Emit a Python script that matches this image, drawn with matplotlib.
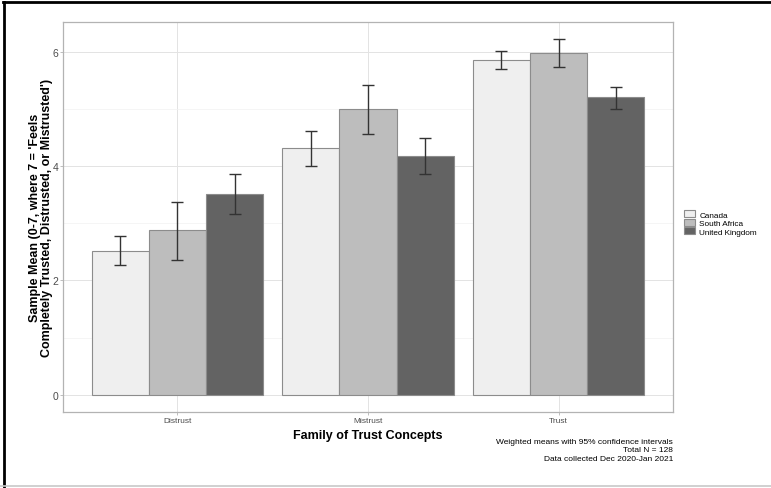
import numpy as np
import matplotlib
matplotlib.use('Agg')
import matplotlib.pyplot as plt
from matplotlib.lines import Line2D

plt.rcParams['font.family'] = ['Liberation Sans', 'DejaVu Sans']

families = ['Distrust', 'Mistrust', 'Trust']
countries = ['Canada', 'South Africa', 'United Kingdom']
colors = ['#efefef', '#bdbdbd', '#636363']

# weighted means per country (rows) and family (columns)
means = [[2.52, 4.31, 5.86],
         [2.88, 4.99, 5.98],
         [3.51, 4.18, 5.20]]
lower = [[2.27, 4.01, 5.69],
         [2.36, 4.57, 5.74],
         [3.16, 3.86, 5.00]]
upper = [[2.77, 4.62, 6.01],
         [3.38, 5.41, 6.22],
         [3.86, 4.50, 5.39]]

fig = plt.figure(figsize=(7.71, 4.89), dpi=100)
ax = fig.add_axes([0.0817, 0.1554, 0.7913, 0.7976])

x = np.arange(1, len(families) + 1)
w = 0.3
for i, c in enumerate(countries):
    m = np.array(means[i])
    lo = np.array(lower[i])
    hi = np.array(upper[i])
    pos = x + (i - 1) * w
    ax.bar(pos, m, width=w, color=colors[i], edgecolor='#8c8c8c', linewidth=0.8,
           label=c, zorder=2)
    ax.errorbar(pos, m, yerr=[m - lo, hi - m], fmt='none', ecolor='#333333',
                elinewidth=1, capsize=4.3, capthick=1, zorder=3)

ax.set_xlim(0.4, 3.6)
ax.set_ylim(-0.3, 6.52)
ax.set_xticks(x)
ax.set_xticklabels(families, fontsize=6, color='#4d4d4d')
ax.set_yticks([0, 2, 4, 6])
ax.set_yticks([1, 3, 5], minor=True)
ax.tick_params(axis='y', labelsize=7.5, labelcolor='#4d4d4d')
ax.tick_params(which='both', color='#b3b3b3', length=2.2, width=0.6, pad=1.2)
ax.tick_params(axis='y', which='minor', length=0)
ax.grid(which='major', color='#e3e3e3', linewidth=0.7, zorder=0)
ax.grid(which='minor', axis='y', color='#f2f2f2', linewidth=0.5, zorder=0)
ax.set_axisbelow(True)
for s in ax.spines.values():
    s.set_color('#b3b3b3')
    s.set_linewidth(0.9)

ax.set_xlabel('Family of Trust Concepts', fontsize=9, fontweight='bold', labelpad=4)
ax.set_ylabel("Sample Mean (0-7, where 7 = 'Feels\nCompletely Trusted, Distrusted, or Mistrusted')",
              fontsize=9, fontweight='bold', linespacing=1.05)
ax.yaxis.set_label_coords(-0.016, 0.5)

leg = ax.legend(loc='center left', bbox_to_anchor=(1.012, 0.485), frameon=False,
                fontsize=5.9, handlelength=1.4, handleheight=1.0, labelspacing=0.0,
                handletextpad=0.5, borderaxespad=0)
for p in leg.get_patches():
    p.set_edgecolor('#8c8c8c')

fig.text(0.873, 0.102, 'Weighted means with 95% confidence intervals\nTotal N = 128\nData collected Dec 2020-Jan 2021',
         ha='right', va='top', fontsize=6, linespacing=1.25)

# outer frame as in the source image
fig.add_artist(Line2D([0.004, 1.0], [0.993, 0.993], color='black', linewidth=2, transform=fig.transFigure))
fig.add_artist(Line2D([0.005, 0.005], [0.0, 0.993], color='black', linewidth=2, transform=fig.transFigure))
fig.add_artist(Line2D([0.0, 1.0], [0.004, 0.004], color='#c8c8c8', linewidth=1.2, transform=fig.transFigure))

fig.savefig('out.png', dpi=100)
